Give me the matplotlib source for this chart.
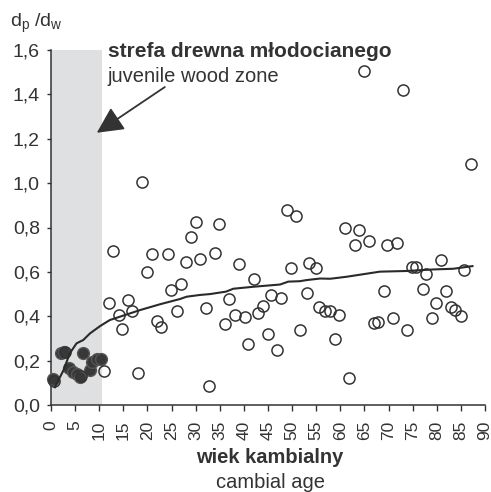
import matplotlib
matplotlib.use('Agg')
import matplotlib.pyplot as plt

plt.rcParams['font.family'] = ['Liberation Sans', 'DejaVu Sans']
plt.rcParams['mathtext.default'] = 'regular'

dark = '#333333'

# punkty - strefa drewna młodocianego (pełne)
juv_x = [0.5, 2.0, 2.7, 6.7, 3.8, 4.6, 5.3, 6.0, 8.1, 8.6, 9.5, 10.3]
juv_y = [0.115, 0.233, 0.24, 0.236, 0.165, 0.15, 0.14, 0.128, 0.158, 0.195, 0.206, 0.206]

# punkty puste
open_x = [0.7, 2.9, 6.2, 11.0,
          12.9, 18.8, 20.9, 24.2, 30.1, 29.0, 34.9, 28.0, 30.9, 34.1, 20.0, 39.0,
          42.1, 48.9, 50.8, 49.8, 12.0, 14.0, 16.0, 16.8, 14.8, 24.8, 26.9, 22.0,
          22.9, 26.1, 32.1, 37.0, 36.0, 38.1, 40.3, 42.9, 44.0, 45.6, 47.7, 45.1,
          40.9, 46.9, 51.6, 18.0, 32.8, 61.7, 58.9, 64.9, 72.9, 87.0, 61.0, 63.8,
          63.0, 65.9, 69.6, 71.8, 53.6, 54.9, 53.0, 55.6, 56.8, 57.9, 59.8, 69.1,
          67.0, 67.9, 71.0, 73.8, 74.8, 75.7, 77.7, 80.9, 85.7, 77.2, 81.9, 79.8,
          82.9, 83.8, 85.1, 79.1]
open_y = [0.11, 0.24, 0.13, 0.155,
          0.694, 1.006, 0.679, 0.679, 0.826, 0.756, 0.818, 0.646, 0.658, 0.686, 0.599, 0.634,
          0.566, 0.877, 0.853, 0.616, 0.458, 0.407, 0.473, 0.425, 0.344, 0.518, 0.545, 0.380,
          0.353, 0.425, 0.436, 0.476, 0.365, 0.407, 0.398, 0.413, 0.447, 0.494, 0.484, 0.320,
          0.273, 0.248, 0.336, 0.146, 0.086, 0.120, 0.296, 1.507, 1.420, 1.086, 0.799, 0.789,
          0.721, 0.741, 0.721, 0.728, 0.638, 0.617, 0.506, 0.443, 0.425, 0.425, 0.407, 0.514,
          0.368, 0.372, 0.391, 0.338, 0.623, 0.623, 0.589, 0.653, 0.608, 0.521, 0.514, 0.460,
          0.443, 0.428, 0.401, 0.391]

# linia trendu
trend_x = [0.8, 2.6, 3.9, 5.3, 6.7, 8.1, 10.2, 12.2, 14.3, 18.5, 22.6, 26.8, 28.1, 30.9,
           33.0, 36.3, 37.8, 42.0, 47.5, 49.2, 51.6, 53.0, 55.8, 57.9, 61.3, 63.7, 68.2,
           73.8, 79.3, 83.4, 87.4]
trend_y = [0.08, 0.157, 0.233, 0.278, 0.293, 0.323, 0.356, 0.383, 0.398, 0.428, 0.454,
           0.478, 0.488, 0.496, 0.500, 0.511, 0.524, 0.533, 0.543, 0.556, 0.558, 0.563,
           0.570, 0.569, 0.578, 0.586, 0.601, 0.604, 0.611, 0.614, 0.626]

xticks = list(range(0, 91, 5))
yticks = [0, 0.2, 0.4, 0.6, 0.8, 1.0, 1.2, 1.4, 1.6]

fig = plt.figure(figsize=(4.91, 4.92), dpi=100)
ax = fig.add_axes([51/491, 1 - 405/492, 434/491, 355/492])

ax.axvspan(0, 10.5, ymax=1, color='#dfe0e2', lw=0, zorder=0)

ax.plot(juv_x, juv_y, 'o', ms=8.5, mfc='#383838', mec='#555555', mew=1.0, zorder=3, clip_on=False)
ax.plot(open_x, open_y, 'o', ms=8, mfc='none', mec=dark, mew=1.1, zorder=4, clip_on=False)
ax.plot(trend_x, trend_y, '-', color='#2a2a2a', lw=1.5, zorder=5)

ax.set_xlim(0, 90)
ax.set_ylim(0, 1.6)
ax.set_xticks(xticks)
ax.set_xticklabels([str(t) for t in xticks], rotation=90, fontsize=12.5, color=dark)
ax.set_yticks(yticks)
ax.set_yticklabels([f'{t:.1f}'.replace('.', ',') for t in yticks], fontsize=14, color=dark)
ax.tick_params(axis='y', length=3, width=1, color=dark, pad=5)
ax.tick_params(axis='x', length=4, width=1, color=dark, pad=7)

for s in ['top', 'right']:
    ax.spines[s].set_visible(False)
for s in ['left', 'bottom']:
    ax.spines[s].set_color(dark)
    ax.spines[s].set_linewidth(1.1)

fig.text(10/491, 1 - 27/492, 'd$_{p}$ /d$_{w}$', fontsize=14, color=dark, va='baseline')

ax.text(11.8, 1.568, 'strefa drewna młodocianego', fontsize=15, fontweight='bold',
        color=dark, va='baseline')
ax.text(11.8, 1.458, 'juvenile wood zone', fontsize=14.5, color=dark, va='baseline')
ax.annotate('', xy=(9.5, 1.227), xytext=(23.6, 1.433),
            arrowprops=dict(arrowstyle='-|>,head_length=0.9,head_width=0.45',
                            mutation_scale=18, lw=1.3, color=dark, shrinkA=0, shrinkB=0))

fig.text(270/491, 1 - 463/492, 'wiek kambialny', fontsize=14.5, fontweight='bold',
         color=dark, ha='center', va='baseline')
fig.text(270/491, 1 - 488/492, 'cambial age', fontsize=14.5, color=dark,
         ha='center', va='baseline')

fig.savefig('out.png', dpi=100)
